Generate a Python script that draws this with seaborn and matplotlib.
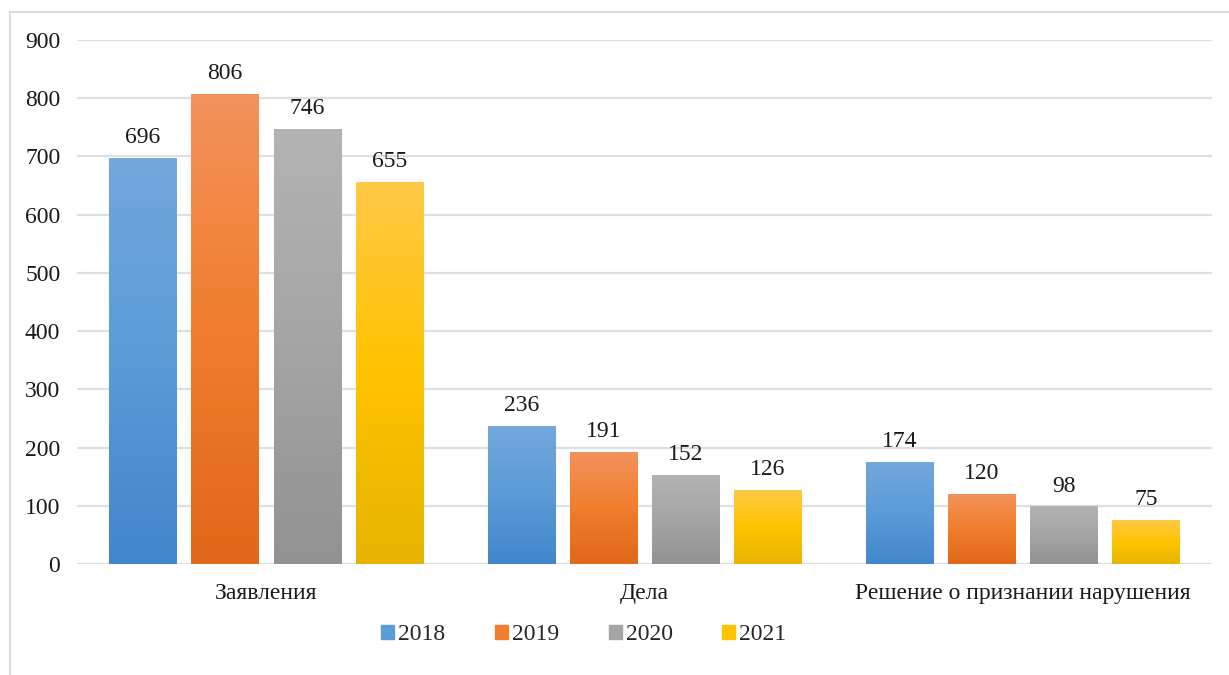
import numpy as np
import pandas as pd
import matplotlib
matplotlib.use("Agg")
import matplotlib.pyplot as plt
from matplotlib.colors import LinearSegmentedColormap
from matplotlib.patches import Rectangle
import seaborn as sns

categories = ["Заявления", "Дела", "Решение о признании нарушения"]
years = ["2018", "2019", "2020", "2021"]
values_2018 = [696, 236, 174]
values_2019 = [806, 191, 120]
values_2020 = [746, 152, 98]
values_2021 = [655, 126, 75]

# gradient stops per year: top, middle, bottom
gradients = {
    "2018": ["#73A8DC", "#5A9BD8", "#4287CB"],
    "2019": ["#F3925C", "#F07E2C", "#E06818"],
    "2020": ["#B3B3B3", "#A5A5A5", "#929292"],
    "2021": ["#FFC946", "#FFC300", "#E6B400"],
}
base_colors = [gradients[y][1] for y in years]

series = [values_2018, values_2019, values_2020, values_2021]
rows = []
for year, vals in zip(years, series):
    for cat, v in zip(categories, vals):
        rows.append({"category": cat, "year": year, "value": v})
df = pd.DataFrame(rows)

sns.set_style("white")
plt.rcParams["font.family"] = ["Liberation Serif", "DejaVu Serif"]
FS = 17

fig = plt.figure(figsize=(12.29, 6.75), dpi=100)
ax = fig.add_axes([77 / 1229, 111 / 675, 1135 / 1229, 524 / 675])

sns.barplot(
    data=df, x="category", y="value", hue="year",
    palette=base_colors, width=0.868, gap=0.18, ax=ax, zorder=2,
)

# replace flat fills with vertical gradients
grad = np.linspace(0, 1, 256).reshape(-1, 1)
for year, cont in zip(years, ax.containers):
    cmap = LinearSegmentedColormap.from_list(year, gradients[year][::-1])
    for bar in cont:
        x0, y0 = bar.get_x(), bar.get_y()
        w, h = bar.get_width(), bar.get_height()
        bar.set_facecolor("none")
        bar.set_edgecolor("none")
        ax.imshow(grad, cmap=cmap, aspect="auto", origin="lower",
                  extent=[x0, x0 + w, y0, y0 + h], zorder=2)
    ax.bar_label(cont, padding=7.5, fontsize=FS, color="#1a1a1a")

ax.set_xlim(-0.5, 2.5)
ax.set_ylim(0, 900)
ax.set_yticks(range(0, 901, 100))
ax.yaxis.grid(True, color="#DCDFE3", linewidth=1.6, zorder=0)
ax.set_axisbelow(True)
for s in ax.spines.values():
    s.set_visible(False)
ax.set_xlabel("")
ax.set_ylabel("")
ax.tick_params(axis="both", length=0, labelsize=FS, colors="#1a1a1a")
ax.tick_params(axis="y", pad=12)
ax.tick_params(axis="x", pad=13.5)

handles = [Rectangle((0, 0), 1, 1, color=c) for c in base_colors]
fig.legend(handles, years, loc="center", bbox_to_anchor=(584 / 1229, 1 - 635 / 675),
           ncol=4, frameon=False, fontsize=FS, handlelength=0.55, handleheight=0.55,
           handletextpad=0.17, columnspacing=2.1)
if ax.get_legend() is not None:
    ax.get_legend().remove()

fig.patches.append(Rectangle((10 / 1229, -0.01), 1.2, 1 - 12 / 675 + 0.01,
                             transform=fig.transFigure, fill=False,
                             edgecolor="#D9DDE2", linewidth=1.5))

fig.savefig("out.png", dpi=100)
